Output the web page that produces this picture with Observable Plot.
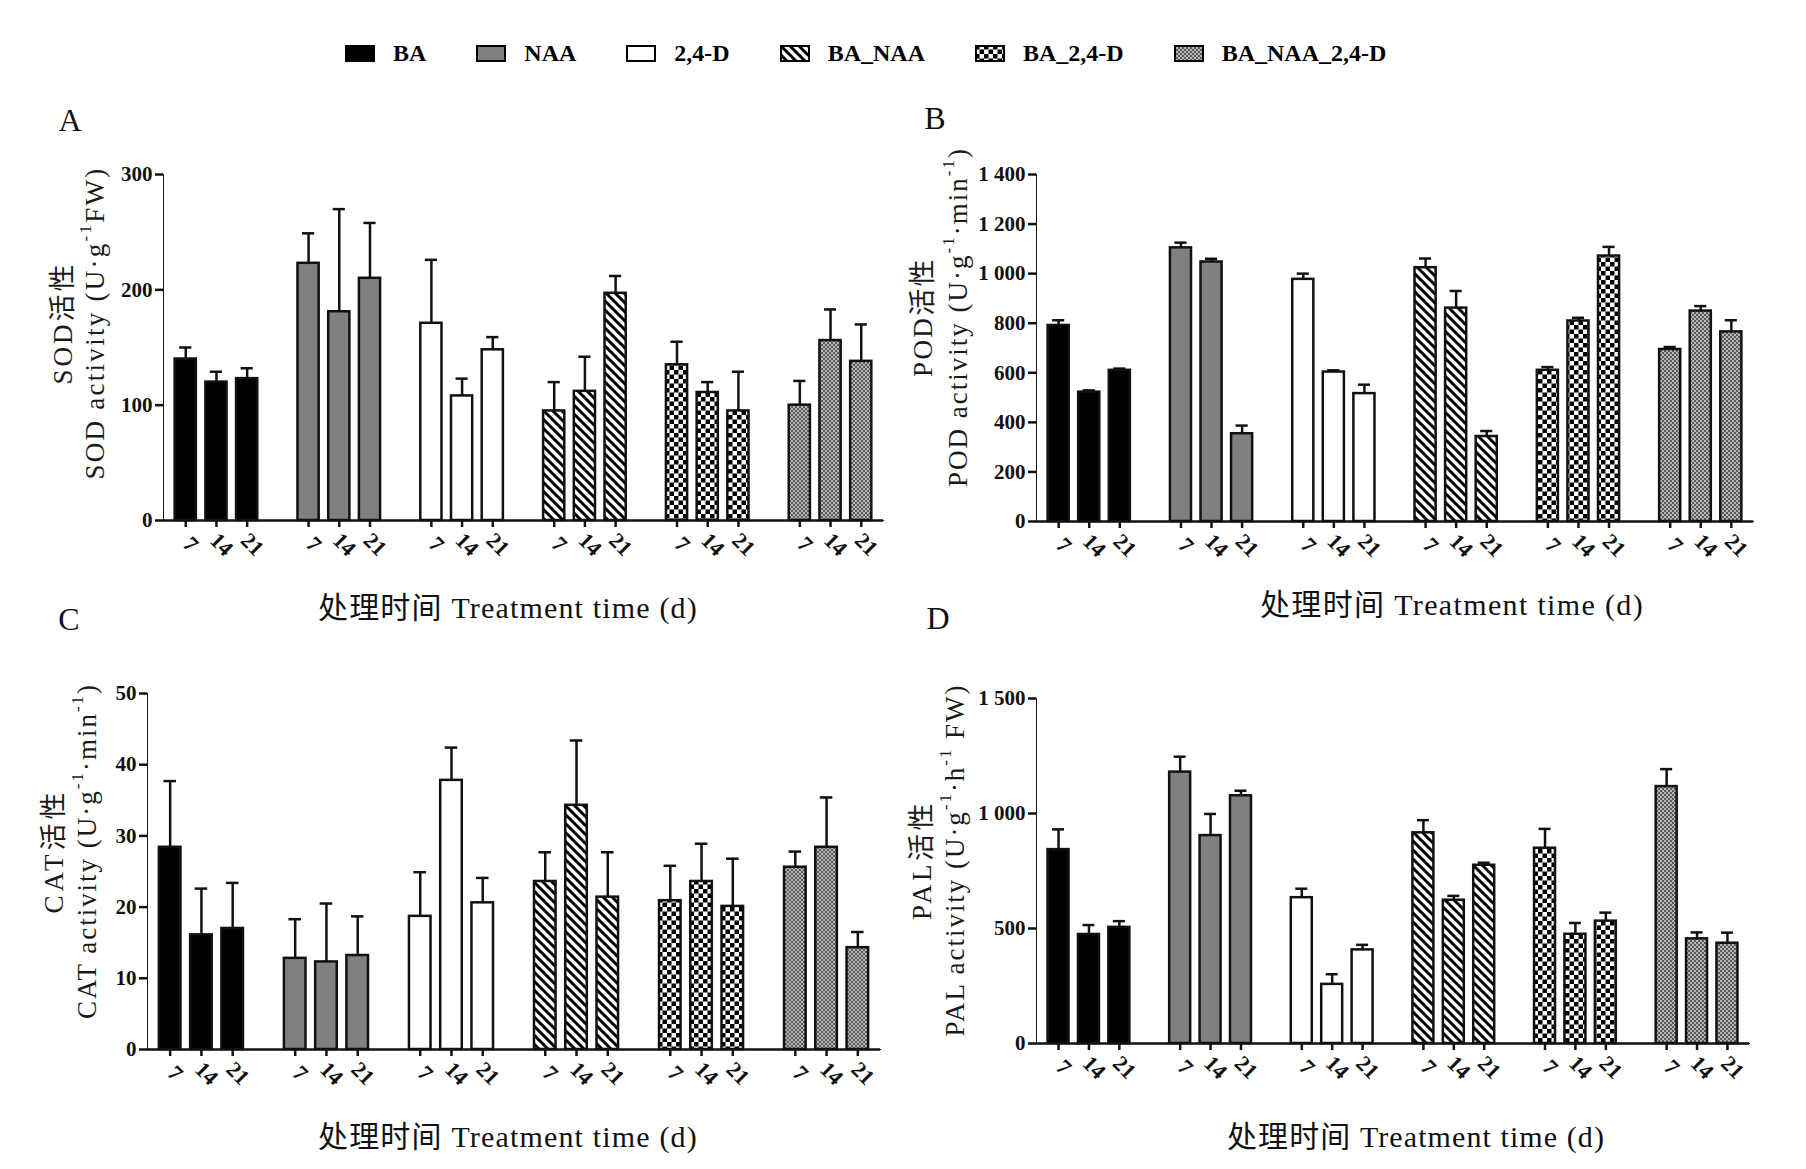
<!DOCTYPE html>
<html>
<head>
<meta charset="utf-8">
<script src="https://cdn.jsdelivr.net/npm/d3@7"></script>
<script src="https://cdn.jsdelivr.net/npm/@observablehq/plot@0.6"></script>
<style>
html, body { margin: 0; padding: 0; background: #fff; }
#page { position: relative; width: 1806px; height: 1169px; overflow: hidden; background: #fff; }
.panel { position: absolute; }
.panel svg { max-width: none !important; }
.panel svg [aria-label*="axis"] line, .panel svg [aria-label*="axis"] path { stroke-width: 2.5px; stroke: #111; }
#legend { position: absolute; left: 345px; top: 40px; display: flex; align-items: center;
  font: bold 24px "Liberation Serif", "Noto Sans CJK SC", serif; color: #000; }
#legend .item { display: flex; align-items: center; margin-right: 50px; }
#legend .item svg { margin-right: 18px; }
#overlay { position: absolute; left: 0; top: 0; pointer-events: none; }
</style>
</head>
<body>
<svg width="0" height="0" style="position:absolute">
  <defs>
    <pattern id="pStripe" patternUnits="userSpaceOnUse" width="9" height="9">
      <rect width="9" height="9" fill="#fff"/>
      <path d="M0,0L9,9M-1,8L1,10M8,-1L10,1" stroke="#000" stroke-width="3"/>
    </pattern>
    <pattern id="pCheck" patternUnits="userSpaceOnUse" width="9" height="9">
      <rect width="9" height="9" fill="#fff"/>
      <rect width="4.5" height="4.5" fill="#000"/>
      <rect x="4.5" y="4.5" width="4.5" height="4.5" fill="#000"/>
    </pattern>
    <pattern id="pFine" patternUnits="userSpaceOnUse" width="4" height="4">
      <rect width="4" height="4" fill="#5a5a5a"/>
      <rect width="2" height="2" fill="#b8b8b8"/>
      <rect x="2" y="2" width="2" height="2" fill="#b8b8b8"/>
    </pattern>
  </defs>
</svg>
<div id="page">
  <div id="legend"></div>
</div>
<script>
// ---------- data ----------
const groups = ["BA", "NAA", "2,4-D", "BA_NAA", "BA_2,4-D", "BA_NAA_2,4-D"];
const days = [7, 14, 21];

// A: SOD activity (mean, error)
const sodMean = [140, 120, 123, 223, 181, 210, 171, 108, 148, 95, 112, 197, 135, 111, 95, 100, 156, 138];
const sodErr  = [10, 9, 9, 26, 89, 48, 55, 15, 11, 25, 30, 15, 20, 9, 34, 21, 27, 32];
// B: POD activity
const podMean = [791, 522, 610, 1104, 1047, 354, 977, 603, 516, 1024, 861, 343, 610, 809, 1071, 694, 849, 765];
const podErr  = [21, 7, 7, 21, 13, 33, 23, 7, 36, 37, 69, 22, 13, 13, 37, 10, 20, 47];
// C: CAT activity
const catMean = [28.4, 16.1, 17.0, 12.8, 12.3, 13.2, 18.7, 37.8, 20.6, 23.6, 34.3, 21.4, 20.9, 23.6, 20.1, 25.6, 28.4, 14.3];
const catErr  = [9.3, 6.5, 6.4, 5.5, 8.2, 5.5, 6.2, 4.6, 3.5, 4.1, 9.1, 6.3, 4.9, 5.3, 6.7, 2.2, 7.0, 2.2];
// D: PAL activity
const palMean = [843, 474, 505, 1180, 904, 1077, 634, 257, 407, 916, 623, 775, 849, 475, 532, 1117, 455, 436];
const palErr  = [88, 41, 27, 67, 94, 22, 39, 44, 22, 55, 19, 11, 84, 49, 37, 76, 28, 46];

const sodTicks = [0, 100, 200, 300];
const podTicks = [0, 200, 400, 600, 800, 1000, 1200, 1400];
const catTicks = [0, 10, 20, 30, 40, 50];
const palTicks = [0, 500, 1000, 1500];

// ---------- styles ----------
const fills = ["#000000", "#808080", "#ffffff", "url(#pStripe)", "url(#pCheck)", "url(#pFine)"];
const serif = '"Liberation Serif", "Noto Sans CJK SC", serif';

function buildRows(means, errs) {
  return groups.flatMap((g, gi) => days.map((d, di) => {
    const i = gi * days.length + di;
    return {group: g, day: d, key: g + "|" + d, mean: means[i], top: means[i] + errs[i]};
  }));
}
const xDomain = groups.flatMap((g, gi) =>
  [...days.map(d => g + "|" + d), ...(gi < groups.length - 1 ? ["gap" + gi] : [])]);
const realKeys = xDomain.filter(k => !k.startsWith("gap"));
const fmt = d => d3.format(",")(d).replace(/,/g, " ");

const page = document.getElementById("page");

function panel(rows, yMax, yTicks, L, R, T, B) {
  const mL = 110, mR = 10, mT = 20, mB = 60;
  const w = R - L + mL + mR, h = B - T + mT + mB;
  const plot = Plot.plot({
    width: w, height: h,
    marginLeft: mL, marginRight: mR, marginTop: mT, marginBottom: mB,
    style: {fontFamily: serif, fontSize: "21px", fontWeight: "bold", color: "#111",
            background: "transparent", overflow: "visible"},
    x: {type: "band", domain: xDomain, paddingInner: 0.31, paddingOuter: 0.38, round: false,
        ticks: realKeys, tickFormat: () => "", tickSize: 7, line: true, label: null},
    y: {domain: [0, yMax], ticks: yTicks, tickFormat: fmt, tickSize: 8, tickPadding: 3,
        line: true, label: null},
    color: {type: "ordinal", domain: groups, range: fills},
    marks: [
      Plot.barY(rows, {x: "key", y: "mean", fill: "group", stroke: "#111", strokeWidth: 2.5}),
      Plot.ruleX(rows, {x: "key", y1: "mean", y2: "top", stroke: "#111", strokeWidth: 2.5}),
      Plot.tickY(rows, {x: "key", y: "top", stroke: "#111", strokeWidth: 2.5, insetLeft: 4.5, insetRight: 4.5}),
      Plot.text(rows, {x: "key", text: d => String(d.day), frameAnchor: "bottom", dy: 29,
                       rotate: 45, fontSize: 22, fontWeight: "bold", fill: "#111"}),
      Plot.ruleY([0], {stroke: "#111", strokeWidth: 2.5})
    ]
  });
  const div = document.createElement("div");
  div.className = "panel";
  div.style.left = (L - mL) + "px";
  div.style.top = (T - mT) + "px";
  div.style.width = w + "px";
  div.style.height = h + "px";
  div.appendChild(plot);
  page.appendChild(div);
}

panel(buildRows(sodMean, sodErr), 300, sodTicks, 163, 883, 174, 520);
panel(buildRows(podMean, podErr), 1400, podTicks, 1036, 1753, 174, 521);
panel(buildRows(catMean, catErr), 50, catTicks, 147, 880, 693, 1049);
panel(buildRows(palMean, palErr), 1500, palTicks, 1036, 1749, 698, 1043);

// ---------- legend ----------
const legend = d3.select("#legend");
groups.forEach((g, gi) => {
  const item = legend.append("div").attr("class", "item");
  const s = item.append("svg").attr("width", 30).attr("height", 17);
  s.append("rect").attr("x", 1).attr("y", 1).attr("width", 28).attr("height", 15)
    .attr("fill", fills[gi]).attr("stroke", "#000").attr("stroke-width", 2);
  item.append("span").text(g);
});

// ---------- overlay text ----------
const ov = d3.select(page).append("svg").attr("id", "overlay")
  .attr("width", 1806).attr("height", 1169)
  .style("font-family", serif);

function fitSpacing(sel, target) {
  const node = sel.node();
  const natural = node.getComputedTextLength();
  const n = node.textContent.length;
  if (n > 1) sel.attr("letter-spacing", ((target - natural) / n).toFixed(2));
}

function letter(t, x, y) {
  ov.append("text").attr("x", x).attr("y", y).attr("text-anchor", "middle")
    .attr("dominant-baseline", "central").attr("font-size", 32).attr("fill", "#111").text(t);
}
letter("A", 70, 120); letter("B", 935, 118); letter("C", 69, 619); letter("D", 938, 618);

function yTitle(line1, parts, x1, x2, cy, len1, len2) {
  const a = ov.append("text").attr("transform", `translate(${x1},${cy}) rotate(-90)`)
    .attr("text-anchor", "middle").attr("dominant-baseline", "central")
    .attr("font-size", 27).attr("fill", "#1a1a1a").text(line1);
  fitSpacing(a, len1);
  const t = ov.append("text").attr("transform", `translate(${x2},${cy}) rotate(-90)`)
    .attr("text-anchor", "middle").attr("dominant-baseline", "central")
    .attr("font-size", 27).attr("fill", "#1a1a1a");
  let up = false;
  parts.forEach(p => {
    if (typeof p === "object") {
      t.append("tspan").attr("dy", -10).attr("font-size", 17).text(p.sup);
      up = true;
    } else {
      const ts = t.append("tspan").text(p);
      if (up) { ts.attr("dy", 10); up = false; }
    }
  });
  fitSpacing(t, len2);
}
yTitle("SOD活性", ["SOD activity (U·g", {sup: "-1"}, "FW)"], 63, 95, 323, 123, 313);
yTitle("POD活性", ["POD activity (U·g", {sup: "-1"}, "·min", {sup: "-1"}, ")"], 923, 958, 317, 120, 340);
yTitle("CAT活性", ["CAT activity (U·g", {sup: "-1"}, "·min", {sup: "-1"}, ")"], 54, 87, 851, 125, 336);
yTitle("PAL活性", ["PAL activity (U·g", {sup: "-1"}, "·h", {sup: "-1"}, " FW)"], 922, 955, 860, 120, 353);

function xTitle(cx, cy, len) {
  const t = ov.append("text").attr("x", cx).attr("y", cy).attr("text-anchor", "middle")
    .attr("dominant-baseline", "central").attr("font-size", 30).attr("fill", "#111")
    .text("处理时间 Treatment time (d)");
  fitSpacing(t, len);
}
xTitle(508, 607, 380);
xTitle(1452, 604, 384);
xTitle(508, 1136, 380);
xTitle(1416, 1136, 378);
</script>
</body>
</html>
